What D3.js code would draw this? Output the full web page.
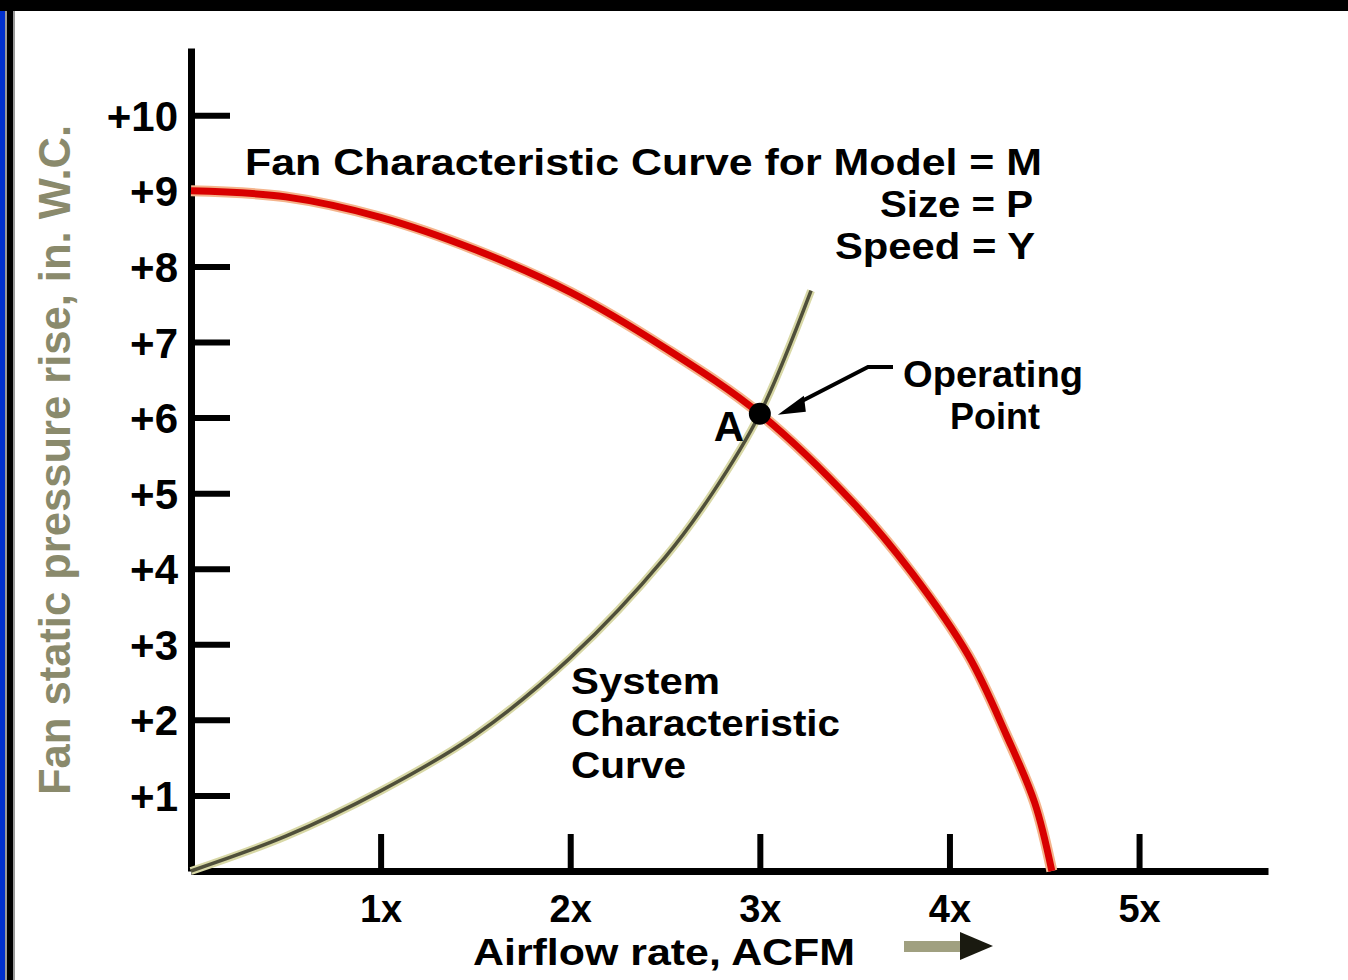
<!DOCTYPE html>
<html>
<head>
<meta charset="utf-8">
<script src="https://cdn.jsdelivr.net/npm/d3@7"></script>
<style>
body { margin: 0; background: #fff; }
text { font-family: "Liberation Sans", Arial, sans-serif; font-weight: bold; }
</style>
</head>
<body>
<div id="chart"></div>
<script>
// fan curve (red) and system curve (grey)
var fanX = [0, 0.5, 1.0, 1.5, 2.0, 2.5, 3.0, 3.5, 3.8, 4.1, 4.3, 4.45, 4.54];
var fanY = [9.0, 8.92, 8.65, 8.22, 7.66, 6.92, 6.05, 4.85, 3.95, 2.85, 1.8, 0.9, 0];

var sysX = [0, 0.5, 1.0, 1.5, 2.0, 2.5, 2.75, 3.0, 3.27];
var sysY = [0, 0.46, 1.06, 1.8, 2.82, 4.15, 5.0, 6.05, 7.68];

var opPoint = [3.0, 6.05];

var yTicks = [1, 2, 3, 4, 5, 6, 7, 8, 9, 10];
var yTickLabels = ["+1", "+2", "+3", "+4", "+5", "+6", "+7", "+8", "+9", "+10"];
var xTicks = [1, 2, 3, 4, 5];
var xTickLabels = ["1x", "2x", "3x", "4x", "5x"];

var W = 1348, H = 980;

var svg = d3.select("#chart").append("svg")
    .attr("width", W)
    .attr("height", H);

// frame
svg.append("rect").attr("x", 0).attr("y", 0).attr("width", 5).attr("height", H).attr("fill", "#0030d0");
svg.append("rect").attr("x", 5).attr("y", 11).attr("width", 10).attr("height", H - 11).attr("fill", "#999");
svg.append("rect").attr("x", 7).attr("y", 11).attr("width", 6).attr("height", H - 11).attr("fill", "#000");
svg.append("rect").attr("x", 0).attr("y", 0).attr("width", W).attr("height", 11).attr("fill", "#000");

var x = d3.scaleLinear().domain([0, 5.68]).range([191, 1268]),
    y = d3.scaleLinear().domain([0, 10.89]).range([871, 48]);

// axes
var yAxis = svg.append("g")
    .attr("class", "y axis")
    .attr("transform", "translate(191,0)")
    .call(d3.axisLeft(y)
        .tickValues(yTicks)
        .tickFormat(function(d, i) { return yTickLabels[i]; })
        .tickSizeInner(-39)
        .tickSizeOuter(0)
        .tickPadding(13));

var xAxis = svg.append("g")
    .attr("class", "x axis")
    .attr("transform", "translate(0,871)")
    .call(d3.axisBottom(x)
        .tickValues(xTicks)
        .tickFormat(function(d, i) { return xTickLabels[i]; })
        .tickSizeInner(-37)
        .tickSizeOuter(0)
        .tickPadding(24));

svg.selectAll(".axis path").attr("stroke", "#000").attr("stroke-width", 7);
svg.selectAll(".axis line").attr("stroke", "#000").attr("stroke-width", 6);
svg.selectAll(".axis text")
    .attr("fill", "#000")
    .style("font-family", "'Liberation Sans', Arial, sans-serif")
    .style("font-weight", "bold");
yAxis.selectAll("text").style("font-size", "42px").attr("dy", "0.36em");
xAxis.selectAll("text").style("font-size", "38px");

var line = d3.line()
    .curve(d3.curveCatmullRom.alpha(0.5))
    .x(function(d) { return x(d[0]); })
    .y(function(d) { return y(d[1]); });

var fan = fanX.map(function(v, i) { return [v, fanY[i]]; });
var sys = sysX.map(function(v, i) { return [v, sysY[i]]; });

// system curve: pale halo + dark core
svg.append("path").attr("d", line(sys)).attr("fill", "none")
    .attr("stroke", "#d8d8a6").attr("stroke-width", 8);
svg.append("path").attr("d", line(sys)).attr("fill", "none")
    .attr("stroke", "#4f4f3a").attr("stroke-width", 3.5);

// fan curve
svg.append("path").attr("d", line(fan)).attr("fill", "none")
    .attr("stroke", "#f4b48c").attr("stroke-width", 11);
svg.append("path").attr("d", line(fan)).attr("fill", "none")
    .attr("stroke", "#d80000").attr("stroke-width", 7);

// operating point
var px = x(opPoint[0]), py = y(opPoint[1]);
svg.append("circle")
    .attr("cx", px)
    .attr("cy", py)
    .attr("r", 11)
    .attr("fill", "#000");

svg.append("text")
    .attr("x", px - 46)
    .attr("y", py + 27)
    .style("font-size", "42px")
    .text("A");

// pointer to operating point
svg.append("polyline")
    .attr("points", [[893, 367], [868, 367], [800, 402]].join(" "))
    .attr("fill", "none")
    .attr("stroke", "#000")
    .attr("stroke-width", 4);
svg.append("path")
    .attr("d", "M" + (px + 18) + "," + (py + 1) + " L" + (px + 44) + "," + (py - 18) + " L" + (px + 46) + "," + (py - 2) + " Z")
    .attr("fill", "#000");

// annotations
function label(txt, x0, y0, size, len) {
    var t = svg.append("text")
        .attr("x", x0)
        .attr("y", y0)
        .style("font-size", size + "px")
        .attr("fill", "#000")
        .text(txt);
    if (len) t.attr("textLength", len).attr("lengthAdjust", "spacingAndGlyphs");
    return t;
}

label("Fan Characteristic Curve for Model = M", 245, 175, 37, 797);
label("Size = P", 880, 217, 37, 153);
label("Speed = Y", 835, 259, 37, 200);
label("Operating", 903, 387, 37, 180);
label("Point", 950, 429, 37, 90);
label("System", 571, 694, 37, 149);
label("Characteristic", 571, 736, 37, 269);
label("Curve", 571, 778, 37, 115);
label("Airflow rate, ACFM", 473, 965, 36, 382);

// flow arrow
svg.append("rect").attr("x", 904).attr("y", 941).attr("width", 62).attr("height", 11).attr("fill", "#a0a080");
svg.append("path").attr("d", "M960,932 L993,946 L960,960 Z").attr("fill", "#1a1a10");

// y axis title
svg.append("text")
    .attr("transform", "translate(70,460) rotate(-90)")
    .attr("text-anchor", "middle")
    .attr("fill", "#8a8a6c")
    .style("font-size", "44px")
    .attr("textLength", 670)
    .attr("lengthAdjust", "spacingAndGlyphs")
    .text("Fan static pressure rise, in. W.C.");
</script>
</body>
</html>
